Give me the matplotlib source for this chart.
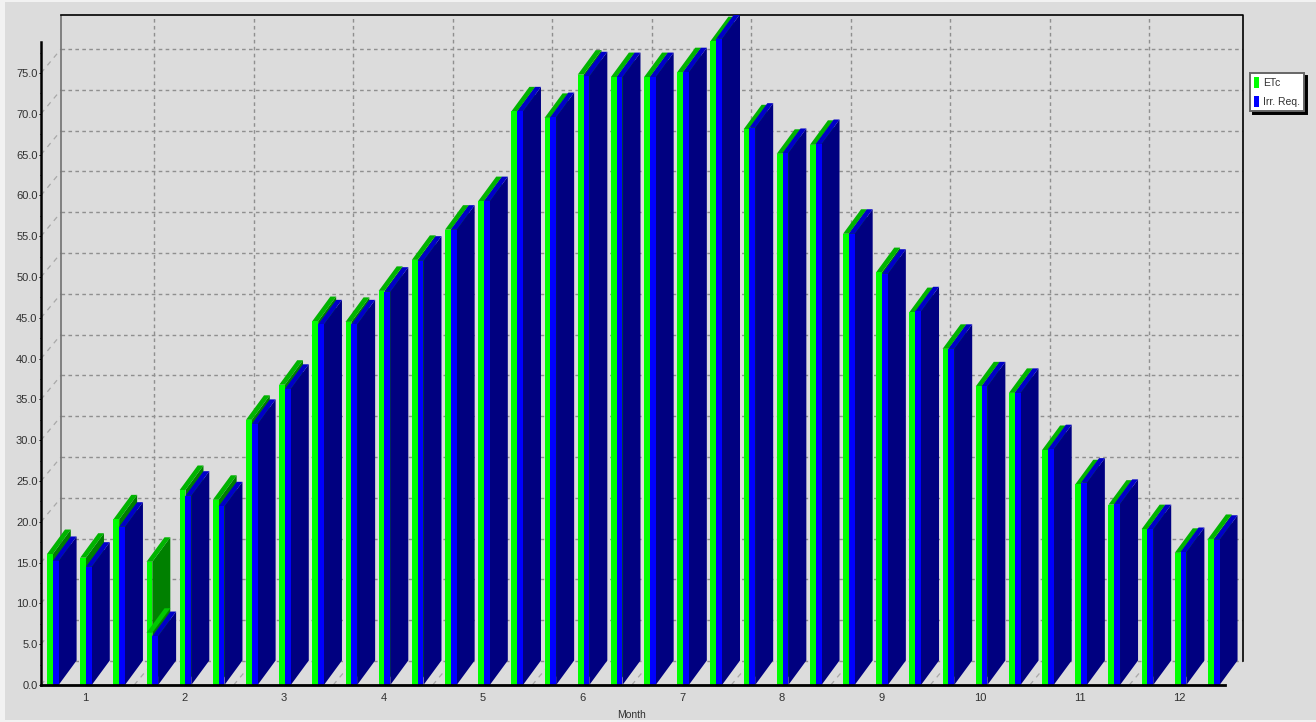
import numpy as np
import matplotlib
matplotlib.use('Agg')
import matplotlib.pyplot as plt
from matplotlib.patches import Rectangle, Patch

etc = [16.05, 15.6, 20.3, 15.1, 23.9, 22.7, 32.5, 36.8, 44.6, 44.5, 48.3, 52.1,
       55.8, 59.3, 70.3, 69.5, 74.8, 74.5, 74.5, 75.1, 78.9, 68.1, 65.1, 66.2,
       55.3, 50.6, 45.7, 41.2, 36.6, 35.8, 28.8, 24.6, 22.1, 19.1, 16.2, 17.9]
irr = [15.2, 14.5, 19.4, 6.0, 23.2, 21.9, 32.0, 36.3, 44.2, 44.2, 48.2, 52.0,
       55.8, 59.3, 70.3, 69.6, 74.6, 74.5, 74.5, 75.1, 79.2, 68.3, 65.2, 66.3,
       55.3, 50.4, 45.8, 41.2, 36.6, 35.8, 28.9, 24.8, 22.2, 19.1, 16.3, 17.8]
months = list(range(1, 13))
y_ticks = np.arange(0, 80, 5)

# pixel scale of the picture
px_x = 33.17
px_y = 8.16
W, H = 1316, 722
x0, x1, y0, y1 = 41, 1243, 685, 15

bar_w = 5.8 / px_x
bar_dx = 18 / px_x
bar_dy = 24.5 / px_y
wall_dx = 20 / px_x
wall_dy = 24 / px_y

plt.rcParams['font.family'] = ['Liberation Sans']

fig = plt.figure(figsize=(W / 100, H / 100), dpi=100, facecolor='#f2f2f2')
fig.add_artist(Rectangle((5 / W, 2 / H), 1, 1 - 4 / H, transform=fig.transFigure,
                         facecolor='#dcdcdc', edgecolor='none', zorder=-5))
ax = fig.add_axes([x0 / W, 1 - y0 / H, (x1 - x0) / W, (y0 - y1) / H])
ax.patch.set_visible(False)
ax.set_xlim((x0 - 47) / px_x, (x1 - 47) / px_x)
ax.set_ylim(0, (y0 - y1) / px_y)
xmin, xmax = ax.get_xlim()
ymax = ax.get_ylim()[1]

# back wall
grid = dict(color='#8f8f8f', lw=1, ls=(0, (2.6, 2.4)), zorder=1)
diag = dict(color='#a8a8a8', lw=0.9, ls=(0, (4, 4)), zorder=1)
wall_x = xmin + wall_dx
for v in y_ticks:
    ax.plot([xmin, wall_x], [v, v + wall_dy], **diag)
    ax.plot([wall_x, xmax], [v + wall_dy, v + wall_dy], **grid)
for m in months[:-1]:
    b = 2.63 + 3 * (m - 1)
    ax.plot([b, b + wall_dx], [0, wall_dy], **diag)
    ax.plot([b + wall_dx, b + wall_dx], [wall_dy, ymax], **grid)
ax.plot([wall_x, wall_x], [wall_dy, ymax], color='#707070', lw=1.2, zorder=1)
ax.plot([wall_x, xmax, xmax], [ymax, ymax, wall_dy], color='black', lw=1.2, zorder=1,
        clip_on=False)

# bars, left to right
for i, (g, b) in enumerate(zip(etc, irr)):
    z = 2 + i * 0.01
    xg = i
    xb = i + bar_w
    # green bar
    ax.fill([xg + bar_w, xg + bar_w + bar_dx, xg + bar_w + bar_dx, xg + bar_w],
            [0, bar_dy, g + bar_dy, g], color='#008000', lw=0, zorder=z)
    ax.fill([xg, xg + bar_w, xg + bar_w + bar_dx, xg + bar_dx],
            [g, g, g + bar_dy, g + bar_dy], color='#00b400', lw=0, zorder=z)
    ax.bar(xg, g, width=bar_w, align='edge', color='#00ff00', lw=0, zorder=z + 0.001)
    if g - b > 3:
        # lip where the low blue bar meets the green one
        ax.fill([xg, xg + bar_w, xg + bar_w + bar_dx, xg + bar_dx],
                [b + 0.4, b + 0.4, b + 0.4 + bar_dy, b + 0.4 + bar_dy],
                color='#00c800', lw=0, zorder=z + 0.002)
    # blue bar
    ax.fill([xb + bar_w, xb + bar_w + bar_dx, xb + bar_w + bar_dx, xb + bar_w],
            [0, bar_dy, b + bar_dy, b], color='#000080', lw=0, zorder=z + 0.003)
    ax.fill([xb, xb + bar_w, xb + bar_w + bar_dx, xb + bar_dx],
            [b, b, b + bar_dy, b + bar_dy], color='#0000c8', lw=0, zorder=z + 0.003)
    ax.bar(xb, b, width=bar_w, align='edge', color='#0000ff', lw=0, zorder=z + 0.004)

# axes
for s in ['top', 'right']:
    ax.spines[s].set_visible(False)
ax.spines['left'].set_linewidth(1.8)
ax.spines['left'].set_bounds(0, (y0 - 42) / px_y)
ax.spines['bottom'].set_linewidth(2)
ax.spines['bottom'].set_bounds(xmin, (1225 - 47) / px_x)
ax.spines['bottom'].set_zorder(5)

ax.set_yticks(y_ticks)
ax.set_yticklabels([f'{v:.1f}' for v in y_ticks])
ax.set_yticks(np.arange(2.5, 80, 5), minor=True)
ax.tick_params(axis='y', which='major', length=1.5, width=0.7, pad=1, labelsize=8, labelcolor='#303030')
ax.tick_params(axis='y', which='minor', length=1, width=0.7)
ax.set_xticks([1.146 + 3 * (m - 1) for m in months])
ax.set_xticklabels(months)
ax.tick_params(axis='x', length=0, pad=6, labelsize=8, labelcolor='#303030')
ax.set_xlabel('Month', fontsize=7.5, color='#303030')
ax.xaxis.set_label_coords((631 - x0) / (x1 - x0), -25 / (y0 - y1))

handles = [Patch(facecolor='#00ff00', label='ETc'), Patch(facecolor='#0000ff', label='Irr. Req.')]
leg = fig.legend(handles=handles, loc='upper left',
                 bbox_to_anchor=(1250 / W, 1 - 73 / H), borderaxespad=0,
                 fancybox=False, framealpha=1, edgecolor='#666666', facecolor='white',
                 shadow={'facecolor': 'black', 'edgecolor': 'black', 'alpha': 1},
                 fontsize=7.5, labelcolor='#303030', handlelength=0.43, handleheight=1.15,
                 handletextpad=0.43, borderpad=0.4, labelspacing=0.8)
leg.get_frame().set_linewidth(1.4)

fig.savefig('out.png', dpi=100, facecolor=fig.get_facecolor())
